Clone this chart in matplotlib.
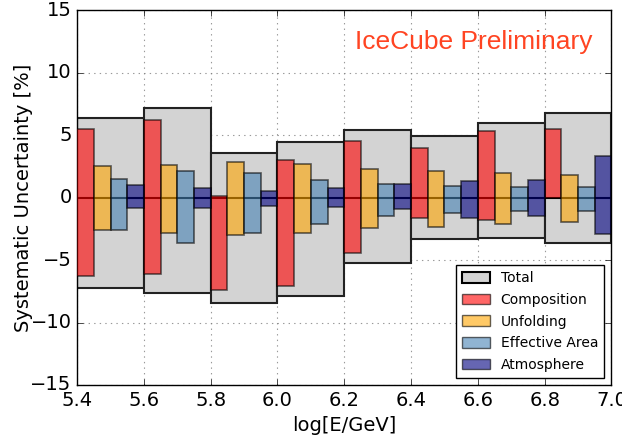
import matplotlib
matplotlib.use("Agg")
import matplotlib.pyplot as plt
import numpy as np
from matplotlib.patches import Patch

bin_edges = [5.4, 5.6, 5.8, 6.0, 6.2, 6.4, 6.6, 6.8, 7.0]
total_up = [6.4, 7.2, 3.6, 4.45, 5.4, 4.9, 6.0, 6.8]
total_dn = [-7.25, -7.65, -8.4, -7.85, -5.25, -3.35, -3.2, -3.65]
comp_up = [5.5, 6.2, 0.15, 3.0, 4.5, 4.0, 5.35, 5.45]
comp_dn = [-6.3, -6.15, -7.4, -7.1, -4.45, -1.6, -1.8, 0.0]
unf_up = [2.5, 2.6, 2.85, 2.7, 2.25, 2.15, 1.95, 1.8]
unf_dn = [-2.6, -2.8, -3.0, -2.85, -2.4, -2.35, -2.1, -1.95]
eff_up = [1.45, 2.1, 1.95, 1.4, 1.1, 0.95, 0.85, 0.85]
eff_dn = [-2.6, -3.65, -2.8, -2.15, -1.5, -1.25, -1.1, -1.1]
atm_up = [1.0, 0.8, 0.55, 0.75, 1.1, 1.3, 1.4, 3.3]
atm_dn = [-0.85, -0.8, -0.65, -0.75, -0.95, -1.6, -1.5, -2.95]
x_ticklabels = ["5.4", "5.6", "5.8", "6.0", "6.2", "6.4", "6.6", "6.8", "7.0"]

plt.style.use("classic")
fig = plt.figure(figsize=(6.22, 4.37), dpi=100)
ax = fig.add_axes([0.124, 0.119, 0.859, 0.858])

lefts = np.array(bin_edges[:-1])
widths = np.diff(bin_edges)

ax.bar(lefts, np.array(total_up) - np.array(total_dn), bottom=total_dn, width=widths,
       align="edge", color="#d3d3d3", edgecolor="#222222", linewidth=1.5, zorder=2)
ax.axhline(0, color="k", lw=1.5, zorder=3)

series = [(comp_up, comp_dn, "red"), (unf_up, unf_dn, "orange"),
          (eff_up, eff_dn, "steelblue"), (atm_up, atm_dn, "navy")]
sub = widths / 4
for i, (up, dn, c) in enumerate(series):
    up = np.array(up); dn = np.array(dn)
    ax.bar(lefts + i * sub, up - dn, bottom=dn, width=sub, align="edge",
           color=c, edgecolor="k", linewidth=1.2, alpha=0.6, zorder=4)

ax.set_xlim(5.4, 7.0)
ax.set_ylim(-15, 15)
ax.set_xticks(np.arange(5.4, 7.01, 0.2))
ax.set_xticklabels(x_ticklabels)
ax.set_yticks(np.arange(-15, 16, 5))
ax.tick_params(labelsize=14, direction="in", top=True, right=True)
ax.grid(True, color="gray", linestyle=":", linewidth=0.8, alpha=0.8)
ax.set_axisbelow(True)
ax.set_xlabel("log[E/GeV]", fontsize=14)
ax.set_ylabel("Systematic Uncertainty [%]", fontsize=14, labelpad=-2)
ax.text(0.965, 0.915, "IceCube Preliminary", transform=ax.transAxes, ha="right",
        va="center", color="#ff4422", fontsize=19, family="Liberation Sans")

handles = [Patch(facecolor="#d3d3d3", edgecolor="k", linewidth=1.5, label="Total"),
           Patch(facecolor="red", edgecolor="k", alpha=0.6, label="Composition"),
           Patch(facecolor="orange", edgecolor="k", alpha=0.6, label="Unfolding"),
           Patch(facecolor="steelblue", edgecolor="k", alpha=0.6, label="Effective Area"),
           Patch(facecolor="navy", edgecolor="k", alpha=0.6, label="Atmosphere")]
leg = ax.legend(handles=handles, loc="lower right", fontsize=10, fancybox=False,
                borderaxespad=0.5, handlelength=2.0, handleheight=0.8,
                labelspacing=0.55, handletextpad=0.8, borderpad=0.45)
leg.set_zorder(10)

fig.savefig("out.png", dpi=100)
